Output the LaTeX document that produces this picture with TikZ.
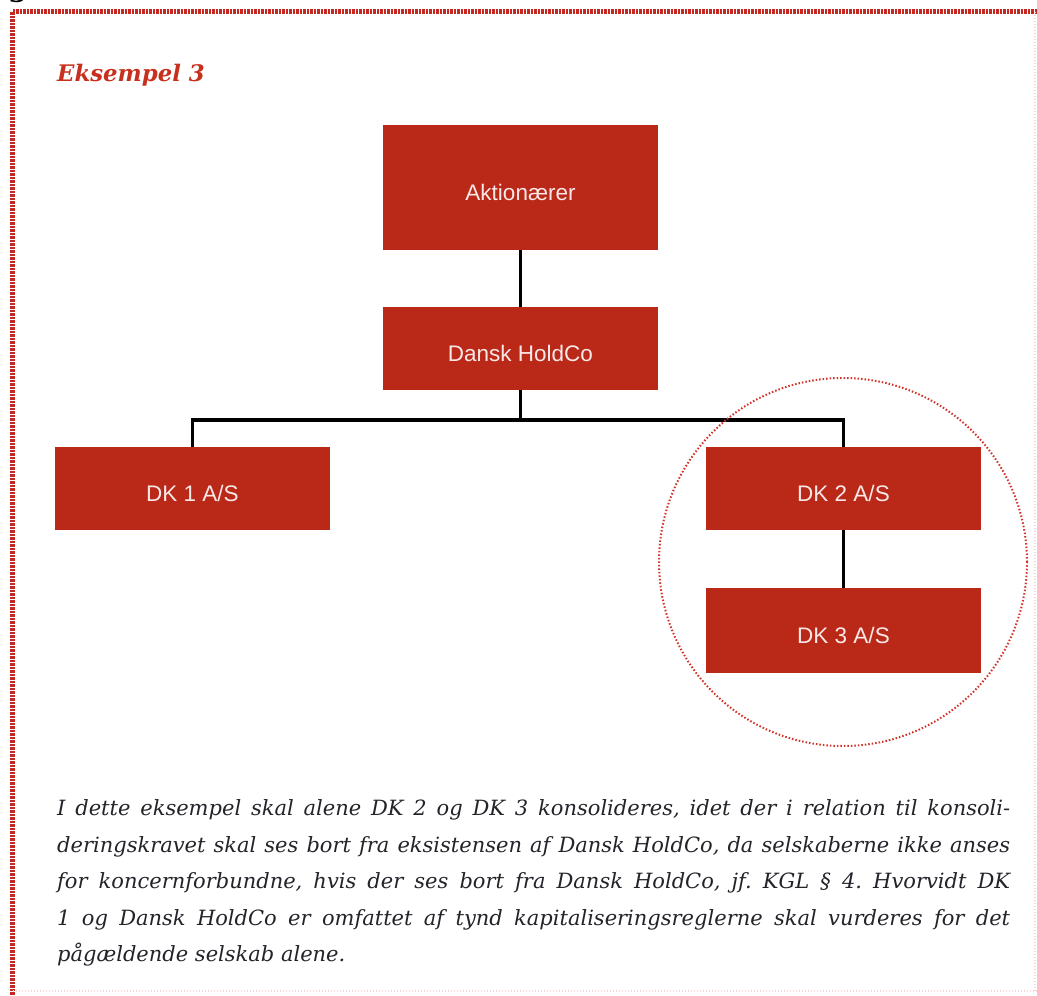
\documentclass[tikz,border=0pt]{standalone}
\usepackage{fontspec}
\setmainfont{DejaVu Serif}
\setsansfont{Liberation Sans}
\definecolor{boxred}{RGB}{186,41,24}
\definecolor{boxtext}{RGB}{250,232,232}
\definecolor{titlered}{RGB}{200,48,30}
\definecolor{framered}{RGB}{196,40,32}
\definecolor{faintred}{RGB}{246,214,214}
\definecolor{circred}{RGB}{210,50,40}
\definecolor{bodytext}{RGB}{35,35,42}
\begin{document}
\begin{tikzpicture}[x=1pt,y=-1pt,
  orgbox/.style={fill=boxred, draw=none, minimum width=275pt, inner sep=0pt,
    font=\sffamily\fontsize{22.5}{23}\selectfont, text=boxtext,
    text height=26pt, text depth=0pt},
  conn/.style={draw=black, line width=3.5pt},
  bodyline/.style={anchor=base west, inner sep=0pt, text=bodytext,
    font=\frenchspacing\itshape\fontsize{21}{21}\selectfont},
]
\useasboundingbox (0,0) rectangle (1037,996);
\fill[white] (0,0) rectangle (1037,996);
% frame
\draw[framered, line width=5pt, dash pattern=on 2.2pt off 1.3pt] (1037,11.5) -- (12.5,11.5) -- (12.5,996);
\draw[faintred, line width=1.5pt, dash pattern=on 1.5pt off 1.5pt] (12.5,991) -- (1037,991);
\draw[faintred, line width=1.5pt, dash pattern=on 1.5pt off 1.5pt] (1035,11.5) -- (1035,991);
\node[anchor=base west, inner sep=0pt, font=\bfseries\fontsize{28}{28}\selectfont] (frag) at (8,-4) {g};
% title
\node[anchor=base west, inner sep=0pt, text=titlered,
  font=\bfseries\itshape\fontsize{22.8}{22.8}\selectfont] (title) at (57,81) {Eksempel 3};
% boxes
\node[orgbox, minimum height=125pt] (akt) at (520.5,187.5) {Aktionærer};
\node[orgbox, minimum height=83pt] (hold) at (520.5,348.5) {Dansk HoldCo};
\node[orgbox, minimum height=83pt] (dk1) at (192.5,488.5) {DK 1 A/S};
\node[orgbox, minimum height=83pt] (dk2) at (843.5,488.5) {DK 2 A/S};
\node[orgbox, minimum height=85pt] (dk3) at (843.5,630.5) {DK 3 A/S};
% connectors
\coordinate (bar) at (520.5,420);
\draw[conn] (akt.south) -- (hold.north);
\draw[conn] (hold.south) -- (bar);
\draw[conn] (dk1.north) |- (bar) -| (dk2.north);
\draw[conn] (dk2.south) -- (dk3.north);
% group circle
\node[draw=circred, circle, line width=2pt, dash pattern=on 1.5pt off 2pt,
  minimum size=368pt, inner sep=0pt] (grp) at (843,562) {};
% body text
\node[bodyline] (l1) at (57,815) {\makebox[953pt][s]{I dette eksempel skal alene DK 2 og DK 3 konsolideres, idet der i relation til konsoli-}};
\node[bodyline] (l2) at (57,852) {\makebox[953pt][s]{deringskravet skal ses bort fra eksistensen af Dansk HoldCo, da selskaberne ikke anses}};
\node[bodyline] (l3) at (57,888.5) {\makebox[953pt][s]{for koncernforbundne, hvis der ses bort fra Dansk HoldCo, jf. KGL § 4. Hvorvidt DK}};
\node[bodyline] (l4) at (57,925) {\makebox[953pt][s]{1 og Dansk HoldCo er omfattet af tynd kapitaliseringsreglerne skal vurderes for det}};
\node[bodyline] (l5) at (57,961.5) {pågældende selskab alene.};
\end{tikzpicture}
\end{document}
